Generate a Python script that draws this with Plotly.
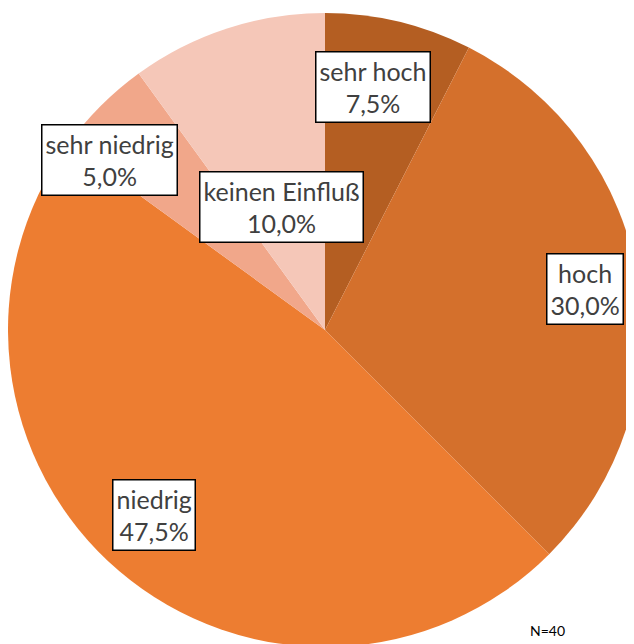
"""Pie chart: Einfluss (N=40) with boxed data labels."""

import plotly.graph_objects as go


# Data (clockwise from 12 o'clock)
labels = ["sehr hoch", "hoch", "niedrig", "sehr niedrig", "keinen Einfluß"]
values = [7.5, 30.0, 47.5, 5.0, 10.0]
colours = ["#B45E22", "#D4702C", "#ED7D31", "#F1A78A", "#F5C7B8"]
n_total = 40

W, H = 634, 644
PAGE_OFFSET = 8  # default body margin of the html page

# Label box centres in screen pixels (Excel "best fit" placement)
label_pos = [(373, 87), (585, 289), (154, 515), (109, 160), (281, 207)]


def _to_paper(px, py):
    return (px - PAGE_OFFSET) / W, 1 - (py - PAGE_OFFSET) / H


fig = go.Figure(
    go.Pie(
        labels=labels,
        values=values,
        sort=False,
        direction="clockwise",
        rotation=0,
        marker=dict(colors=colours, line=dict(width=0)),
        textinfo="none",
        hoverinfo="label+percent",
        showlegend=False,
        domain=dict(x=[0, 1], y=[0, 1]),
    )
)

for lab, val, (px, py) in zip(labels, values, label_pos):
    x, y = _to_paper(px, py)
    pct = f"{val:.1f}%".replace(".", ",")
    fig.add_annotation(
        x=x, y=y, xref="paper", yref="paper",
        xanchor="center", yanchor="middle",
        text=f"{lab}<br>{pct}",
        showarrow=False,
        align="center",
        font=dict(family="Lato, Noto Sans, sans-serif", size=25, color="#404040"),
        bgcolor="white",
        bordercolor="black",
        borderwidth=1.5,
        borderpad=3,
    )

nx, ny = _to_paper(547, 630)
fig.add_annotation(
    x=nx, y=ny, xref="paper", yref="paper",
    xanchor="center", yanchor="middle",
    text=f"N={n_total}",
    showarrow=False,
    font=dict(family="Lato, Noto Sans, sans-serif", size=14, color="black"),
)

fig.update_layout(
    width=W,
    height=H,
    margin=dict(l=0, r=0, t=0, b=0),
    paper_bgcolor="white",
    plot_bgcolor="white",
)

fig.write_html("out.html")
